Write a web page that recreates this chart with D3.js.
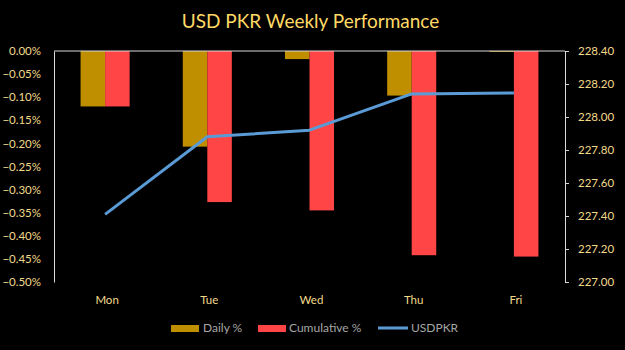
<!DOCTYPE html>
<html>
<head>
<meta charset="utf-8">
<script src="https://cdn.jsdelivr.net/npm/d3@7"></script>
<style>
  html, body { margin: 0; padding: 0; background: #000; }
  svg { display: block; }
  text { font-family: Lato, "Open Sans", sans-serif; }
</style>
</head>
<body>
<svg id="chart" width="625" height="350"></svg>
<script>
// Weekly data
const days = ["Mon", "Tue", "Wed", "Thu", "Fri"];
const dailyPct = [-0.12, -0.207, -0.0175, -0.0965, -0.002];
const cumulativePct = [-0.12, -0.327, -0.345, -0.442, -0.445];
const usdpkr = [227.41, 227.88, 227.92, 228.14, 228.145];
const leftTicks = [0, -0.05, -0.10, -0.15, -0.20, -0.25, -0.30, -0.35, -0.40, -0.45, -0.50];
const rightTicks = [227.0, 227.2, 227.4, 227.6, 227.8, 228.0, 228.2, 228.4];

const svg = d3.select("#chart");
const W = 625, H = 350;
const m = { left: 54, right: 60, top: 51, bottom: 68 };
const pw = W - m.left - m.right, ph = H - m.top - m.bottom;

const tickColor = "#F2D98A";
const axisColor = "#D9D9D9";

svg.append("rect").attr("width", W).attr("height", H).attr("fill", "#000");

// Title
svg.append("text")
  .attr("x", W / 2 - 2).attr("y", 28)
  .attr("text-anchor", "middle")
  .attr("fill", "#FFD966")
  .attr("font-size", 19)
  .text("USD PKR Weekly Performance");

const x = d3.scaleBand().domain(days).range([m.left, m.left + pw]);
const yL = d3.scaleLinear().domain([-0.5, 0]).range([m.top + ph, m.top]);
const yR = d3.scaleLinear().domain([227.0, 228.4]).range([m.top + ph, m.top]);

const barW = x.bandwidth() * 0.24;
const g = svg.append("g");

// Daily bars
g.selectAll("rect.daily").data(days).join("rect")
  .attr("class", "daily")
  .attr("x", d => x(d) + x.bandwidth() / 2 - barW)
  .attr("y", yL(0))
  .attr("width", barW)
  .attr("height", (d, i) => yL(dailyPct[i]) - yL(0))
  .attr("fill", "#BF8F00");

// Cumulative bars
g.selectAll("rect.cum").data(days).join("rect")
  .attr("class", "cum")
  .attr("x", d => x(d) + x.bandwidth() / 2)
  .attr("y", yL(0))
  .attr("width", barW)
  .attr("height", (d, i) => yL(cumulativePct[i]) - yL(0))
  .attr("fill", "#FF4545");

// Left axis
const axL = svg.append("g").attr("transform", `translate(${m.left},0)`)
  .call(d3.axisLeft(yL).tickValues(leftTicks).tickSize(0).tickPadding(13)
    .tickFormat(d => d3.format(".2f")(d) + "%"));
axL.select(".domain").attr("stroke", axisColor);
axL.selectAll("text").attr("fill", tickColor).attr("font-size", 11.5)
  .attr("font-family", "Lato, 'Open Sans', sans-serif");

// Right axis
const axR = svg.append("g").attr("transform", `translate(${m.left + pw},0)`)
  .call(d3.axisRight(yR).tickValues(rightTicks).tickSizeInner(4).tickSizeOuter(4).tickPadding(9)
    .tickFormat(d3.format(".2f")));
axR.select(".domain").attr("stroke", axisColor);
axR.selectAll("line").attr("stroke", axisColor);
axR.selectAll("text").attr("fill", tickColor).attr("font-size", 11.5)
  .attr("font-family", "Lato, 'Open Sans', sans-serif");

// Zero line (category axis)
svg.append("line")
  .attr("x1", m.left).attr("x2", m.left + pw)
  .attr("y1", yL(0)).attr("y2", yL(0))
  .attr("stroke", axisColor).attr("stroke-width", 1);

// Category labels
svg.append("g").selectAll("text").data(days).join("text")
  .attr("x", d => x(d) + x.bandwidth() / 2 + 2)
  .attr("y", m.top + ph + 22)
  .attr("text-anchor", "middle")
  .attr("fill", tickColor)
  .attr("font-size", 11.5)
  .text(d => d);

// USDPKR line
const line = d3.line()
  .x((d, i) => x(days[i]) + x.bandwidth() / 2)
  .y(d => yR(d));
svg.append("path")
  .datum(usdpkr)
  .attr("d", line)
  .attr("fill", "none")
  .attr("stroke", "#5B9BD5")
  .attr("stroke-width", 3)
  .attr("stroke-linejoin", "round");

// Legend
const legY = 328;
const leg = svg.append("g").attr("font-size", 12).attr("fill", "#A6A6A6");
leg.append("rect").attr("x", 171).attr("y", legY - 3).attr("width", 28).attr("height", 7).attr("fill", "#BF8F00");
leg.append("text").attr("x", 203).attr("y", legY + 4).text("Daily %");
leg.append("rect").attr("x", 258).attr("y", legY - 3).attr("width", 28).attr("height", 7).attr("fill", "#FF4545");
leg.append("text").attr("x", 289).attr("y", legY + 4).text("Cumulative %");
leg.append("line").attr("x1", 378).attr("x2", 408).attr("y1", legY).attr("y2", legY)
  .attr("stroke", "#5B9BD5").attr("stroke-width", 3);
leg.append("text").attr("x", 411).attr("y", legY + 4).text("USDPKR");
</script>
</body>
</html>
